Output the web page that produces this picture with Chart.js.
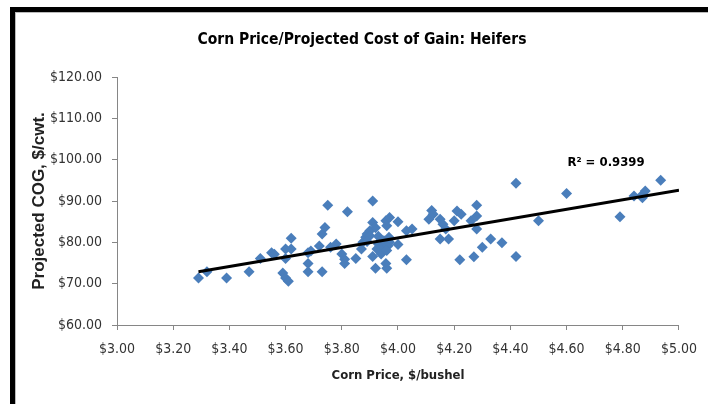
<!DOCTYPE html>
<html>
<head>
<meta charset="utf-8">
<script src="https://cdn.jsdelivr.net/npm/chart.js@4.4.0/dist/chart.umd.min.js"></script>
<style>
    html, body { margin: 0; padding: 0; background: #fff; overflow: hidden; }
    #wrap { position: relative; width: 708px; height: 404px; }
    #frame {
        position: absolute; left: 10px; top: 7px; width: 720px; height: 420px;
        border-top: 5px solid #000; border-left: 5px solid #000;
        box-shadow: inset 1px 1px 0 #bbb;
        pointer-events: none;
    }
</style>
</head>
<body>
<div id="wrap">
    <canvas id="cog-chart" width="708" height="404"></canvas>
    <div id="frame"></div>
</div>
<script>
const cornPrice = [3.29, 3.32, 3.39, 3.47, 3.51, 3.55, 3.56, 3.60, 3.60, 3.59, 3.60, 3.61, 3.62, 3.62,
    3.68, 3.68, 3.68, 3.69, 3.72, 3.73, 3.74, 3.73, 3.75, 3.76, 3.78, 3.80, 3.81, 3.81, 3.82, 3.85,
    3.87, 3.875, 3.885, 3.89, 3.90, 3.91, 3.91, 3.90, 3.91, 3.92, 3.925, 3.93, 3.94, 3.95, 3.95,
    3.957, 3.96, 3.957, 3.96, 3.965, 3.968, 3.97, 4.00, 4.00, 4.03, 4.03, 4.05, 4.11, 4.12, 4.125,
    4.15, 4.15, 4.16, 4.17, 4.18, 4.20, 4.21, 4.225, 4.22, 4.26, 4.27, 4.28, 4.28, 4.28, 4.30,
    4.33, 4.37, 4.42, 4.42, 4.50, 4.60, 4.79, 4.84, 4.865, 4.88, 4.935, 4.87,
    3.93, 3.94, 3.96, 3.97, 3.89, 3.92];
const projectedCog = [71.4, 72.9, 71.4, 72.9, 76.1, 77.5, 77.1, 78.4, 76.1, 72.6, 71.4, 70.6, 81.0, 78.4,
    77.5, 74.9, 72.9, 77.9, 79.1, 82.0, 83.6, 72.9, 89.0, 78.8, 79.6, 77.2, 75.9, 74.9, 87.4, 76.1,
    78.4, 80.0, 81.2, 82.0, 82.8, 84.8, 90.0, 81.6, 76.6, 73.7, 78.4, 79.6, 77.2, 78.8, 80.4,
    85.2, 84.0, 74.9, 73.7, 79.2, 81.2, 86.0, 85.0, 79.5, 82.8, 75.8, 83.2, 85.6, 87.7, 86.8,
    85.6, 80.8, 84.4, 83.2, 80.8, 85.2, 87.6, 86.8, 75.8, 85.2, 76.5, 89.0, 86.4, 83.2, 78.8,
    80.8, 79.9, 94.3, 76.6, 85.2, 91.8, 86.2, 91.2, 91.2, 92.4, 95.0, 90.8,
    81.5, 80.5, 78.0, 80.0, 80.2, 83.5];

// trendline end points
const trendX = [3.29, 5.00];
const trendY = [72.9, 92.6];

const xTicks = [3.0, 3.2, 3.4, 3.6, 3.8, 4.0, 4.2, 4.4, 4.6, 4.8, 5.0];
const yTicks = [60, 70, 80, 90, 100, 110, 120];

const rSquaredText = 'R\u00b2 = 0.9399';
const rSquaredAt = { x: 4.603, y: 99.4 };

const narrow = "'Liberation Sans Narrow', 'Arial Narrow', 'DejaVu Sans Condensed', sans-serif";
const axisGray = '#868686';
const money = v => '$' + Number(v).toFixed(2);

const rSquaredLabel = {
    id: 'rSquaredLabel',
    afterDatasetsDraw(chart) {
        const { ctx, scales } = chart;
        ctx.save();
        ctx.font = "bold 13px " + narrow;
        ctx.fillStyle = '#000';
        ctx.textAlign = 'left';
        ctx.textBaseline = 'middle';
        ctx.fillText(rSquaredText, scales.x.getPixelForValue(rSquaredAt.x), scales.y.getPixelForValue(rSquaredAt.y));
        ctx.restore();
    }
};

new Chart(document.getElementById('cog-chart'), {
    type: 'scatter',
    data: {
        datasets: [{
            type: 'line',
            label: 'Trend',
            data: trendX.map((x, i) => ({ x, y: trendY[i] })),
            borderColor: '#000',
            borderWidth: 3,
            pointRadius: 0,
            order: 0
        }, {
            label: 'Heifers',
            data: cornPrice.map((x, i) => ({ x, y: projectedCog[i] })),
            pointStyle: 'rectRot',
            pointRadius: 5.5,
            backgroundColor: '#4a7ebb',
            borderWidth: 0,
            order: 1
        }]
    },
    options: {
        responsive: false,
        animation: false,
        layout: { padding: { left: 16, right: 0, top: 0, bottom: 0 } },
        plugins: {
            legend: { display: false },
            tooltip: { enabled: false },
            title: {
                display: true,
                text: 'Corn Price/Projected Cost of Gain: Heifers',
                color: '#000',
                font: { family: narrow, size: 15.5, weight: 'bold' },
                padding: { top: 30.7, bottom: 27.7 }
            }
        },
        scales: {
            x: {
                type: 'linear',
                min: 3, max: 5,
                afterBuildTicks: s => { s.ticks = xTicks.map(value => ({ value })); },
                afterFit: s => { s.height = 79; },
                ticks: { callback: money, color: '#333', font: { family: narrow, size: 14 }, padding: 11, maxRotation: 0, autoSkip: false },
                grid: { drawOnChartArea: false, drawTicks: true, tickLength: 5, color: axisGray },
                border: { color: axisGray },
                title: {
                    display: true,
                    text: 'Corn Price, $/bushel',
                    color: '#222',
                    font: { family: narrow, size: 13, weight: 'bold' },
                    padding: { top: 0, bottom: 21 }
                }
            },
            y: {
                min: 60, max: 120,
                afterBuildTicks: s => { s.ticks = yTicks.map(value => ({ value })); },
                afterFit: s => { s.width = 101; },
                ticks: { callback: money, color: '#333', font: { family: narrow, size: 14 }, padding: 10 },
                grid: { drawOnChartArea: false, drawTicks: true, tickLength: 5, color: axisGray },
                border: { color: axisGray },
                title: {
                    display: true,
                    text: 'Projected COG, $/cwt.',
                    color: '#222',
                    font: { family: "'Liberation Sans', Arial, sans-serif", size: 17, weight: 'bold' },
                    padding: { top: 13, bottom: 0 }
                }
            },
            // empty right axis only reserves the space right of the plot
            y2: {
                position: 'right',
                grid: { display: false },
                border: { display: false },
                ticks: { display: false },
                afterFit: s => { s.width = 25; }
            }
        }
    },
    plugins: [rSquaredLabel]
});
</script>
</body>
</html>
